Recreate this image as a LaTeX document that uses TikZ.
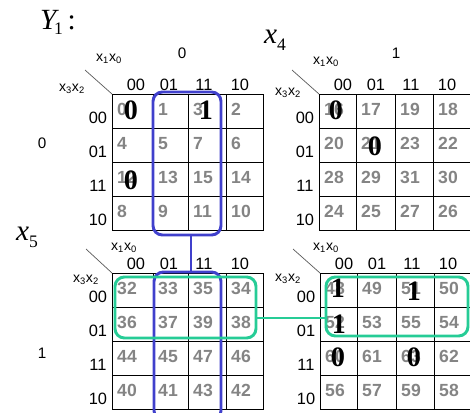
\documentclass[tikz,border=0pt]{standalone}
\usepackage{fontspec}
\setmainfont{Liberation Sans}
\newfontfamily\kmapserif{Liberation Serif}
\usetikzlibrary{fit}
\definecolor{cellgray}{RGB}{132,132,132}
\definecolor{loopblue}{RGB}{64,64,204}
\definecolor{loopgreen}{RGB}{38,204,150}
\tikzset{
  gridline/.style={line width=0.8pt},
  diagline/.style={line width=0.6pt, black!65},
  cellnum/.style={anchor=base west, inner sep=0pt, text=cellgray, font=\fontsize{15}{15}\selectfont\bfseries},
  bitlabel/.style={inner sep=0pt, font=\fontsize{14}{14}\selectfont},
  varlabel/.style={inner sep=0pt, font=\fontsize{12}{12}\selectfont},
  sidelabel/.style={inner sep=0pt, font=\fontsize{13}{13}\selectfont},
  cellvalue/.style={inner sep=0pt, font=\kmapserif\fontsize{24}{24}\selectfont\bfseries},
  bigvar/.style={inner sep=0pt, anchor=base west, font=\kmapserif\fontsize{25}{25}\selectfont},
  loopbox/.style={draw, inner sep=0pt, rounded corners=8pt, line width=2.5pt},
}

\begin{document}
\begin{tikzpicture}[x=0.03cm, y=-0.03cm]
  \useasboundingbox (0,0) rectangle (470,412);
  % four maps: first cell, grid corner, first column line, width
  \foreach \base/\gx/\gy/\ca/\w in {0/112/94/41/151, 16/319/94/37/153, 32/112/273/41/151, 48/320/273/37/152} {
    \begin{scope}[shift={(\gx,\gy)}]
      \draw[gridline] (0,0) rectangle (\w,136);
      \draw[gridline] (\ca,0) -- (\ca,136) (76,0) -- (76,136) (114,0) -- (114,136);
      \draw[gridline] (0,34) -- (\w,34) (0,68) -- (\w,68) (0,102) -- (\w,102);
      \foreach \bits/\hx/\ry in {00/24/0, 01/57/34, 11/92/68, 10/128/102} {
        \node[bitlabel] (col\base-\bits) at (\hx,-9) {\bits};
        \node[bitlabel] (row\base-\bits) at (-14,\ry+24) {\bits};
      }
      \foreach \r/\ry in {0/0, 4/34, 12/68, 8/102}
        \foreach \c/\cx in {0/0, 1/\ca, 3/76, 2/114} {
          \pgfmathtruncatemacro\n{\base+\r+\c}
          \node[cellnum] (c\n) at (\cx+5,\ry+21) {\n};
        }
    \end{scope}
  }

  % variable names
  \node[bigvar] (title) at (40,29) {\itshape Y\kern-2pt\raisebox{-5pt}{\upshape\fontsize{15}{15}\selectfont 1}\kern4pt\upshape :};
  \node[bigvar] (xfour) at (264,43) {\itshape x\raisebox{-6.5pt}{\upshape\fontsize{15}{15}\selectfont 4}};
  \node[bigvar] (xfive) at (16,240) {\itshape x\raisebox{-6.5pt}{\upshape\fontsize{15}{15}\selectfont 5}};
  \node[sidelabel] (xfour-0) at (182,53) {0};
  \node[sidelabel] (xfour-1) at (396,53) {1};
  \node[sidelabel] (xfive-0) at (42,143) {0};
  \node[sidelabel] (xfive-1) at (42,353) {1};

  % corner labels
  \draw[diagline] (85,70) -- (112,94);
  \node[varlabel] (low0) at (109,59) {x\textsubscript{1}x\textsubscript{0}};
  \node[varlabel] (high0) at (72,89) {x\textsubscript{3}x\textsubscript{2}};
  \draw[diagline] (292,70) -- (319,94);
  \node[varlabel] (low16) at (326,62) {x\textsubscript{1}x\textsubscript{0}};
  \node[varlabel] (high16) at (288,93) {x\textsubscript{3}x\textsubscript{2}};
  \draw[diagline] (86,249) -- (112,273);
  \node[varlabel] (low32) at (124,248) {x\textsubscript{1}x\textsubscript{0}};
  \node[varlabel] (high32) at (86,280) {x\textsubscript{3}x\textsubscript{2}};
  \draw[diagline] (293,249) -- (320,273);
  \node[varlabel] (low48) at (326,248) {x\textsubscript{1}x\textsubscript{0}};
  \node[varlabel] (high48) at (288,279) {x\textsubscript{3}x\textsubscript{2}};

  % values written in
  \node[cellvalue] (v0) at (131,110) {0};
  \node[cellvalue] (v3) at (206,110) {1};
  \node[cellvalue] (v12) at (131,180) {0};
  \node[cellvalue] (v16) at (336,110) {0};
  \node[cellvalue] (v21) at (375,146) {0};
  \node[cellvalue] (v48) at (338,288) {1};
  \node[cellvalue] (v51) at (414,291) {1};
  \node[cellvalue] (v52) at (339,324) {1};
  \node[cellvalue] (v60) at (338,357) {0};
  \node[cellvalue] (v63) at (414,357) {0};

  % groups
  \node[loopbox, draw=loopblue, fit={(153,92) (221,235)}] (blueA) {};
  \node[loopbox, draw=loopblue, fit={(154,272) (221,420)}] (blueB) {};
  \coordinate (bluelink) at (191,0);
  \draw[loopblue, line width=2.5pt] (blueA.south -| bluelink) -- (blueB.north -| bluelink);
  \node[loopbox, draw=loopgreen, fit={(115,277) (256,338)}] (greenA) {};
  \node[loopbox, draw=loopgreen, fit={(326,277) (468,336)}] (greenB) {};
  \coordinate (greenlink) at (0,318);
  \draw[loopgreen, line width=2.5pt] (greenA.east |- greenlink) -- (greenB.west |- greenlink);
\end{tikzpicture}
\end{document}
